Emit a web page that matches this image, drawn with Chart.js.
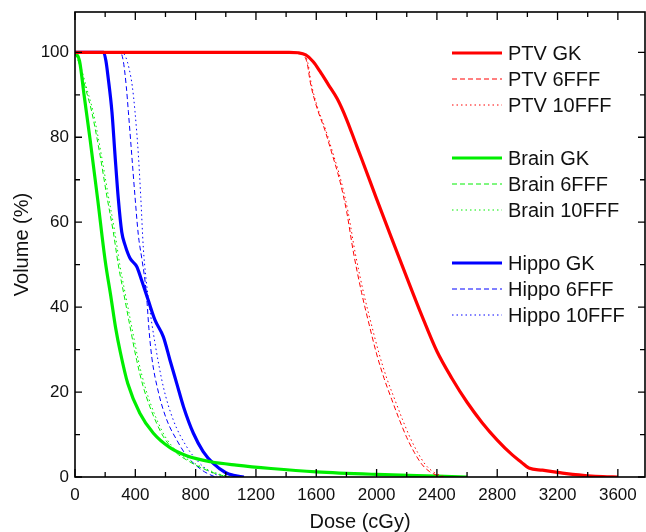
<!DOCTYPE html>
<html>
<head>
<meta charset="utf-8">
<script src="https://cdn.jsdelivr.net/npm/chart.js@4.4.1/dist/chart.umd.min.js"></script>
<style>
  html, body { margin: 0; padding: 0; background: #fff; }
  #wrap { width: 646px; height: 532px; position: relative; }
</style>
</head>
<body>
<div id="wrap"><canvas id="dvh"></canvas></div>
<script>
// axis ticks
const xTicks = [0, 400, 800, 1200, 1600, 2000, 2400, 2800, 3200, 3600];
const yTicks = [0, 20, 40, 60, 80, 100];

// PTV
const ptvGkDose = [0, 1420, 1480, 1530, 1580, 1625, 1680, 1740, 1800, 1860, 1900, 2000, 2100, 2200, 2300, 2400, 2500, 2600, 2700, 2800, 2900, 2960, 3010, 3100, 3200, 3300, 3400, 3500, 3600];
const ptvGkVol = [100, 100, 99.9, 99.4, 97.8, 95.5, 92.4, 89, 84.3, 78.7, 75, 65.5, 56.2, 47, 38, 29.6, 23.2, 17.6, 12.8, 8.7, 5.2, 3.5, 2.1, 1.6, 1.1, 0.6, 0.3, 0.1, 0];
const ptv6Dose = [0, 1480, 1515, 1540, 1560, 1603, 1658, 1691, 1758, 1802, 1846, 1900, 1950, 2000, 2050, 2100, 2150, 2200, 2250, 2300, 2350, 2400, 2440];
const ptv6Vol = [100, 100, 99.4, 97.4, 93, 87.1, 81.6, 77.7, 69.5, 62.4, 53, 43.5, 36, 29, 23.2, 18.3, 13.6, 9.3, 5.8, 3, 1.3, 0.4, 0];
const ptv10Dose = [0, 1480, 1520, 1545, 1565, 1608, 1664, 1698, 1766, 1811, 1857, 1913, 1965, 2017, 2068, 2120, 2171, 2222, 2272, 2322, 2372, 2420, 2460];
const ptv10Vol = [100, 100, 99.4, 97.4, 93, 87.1, 81.6, 77.7, 69.5, 62.4, 53, 43.5, 36, 29, 23.2, 18.3, 13.6, 9.3, 5.8, 3, 1.3, 0.4, 0];

// Brain
const brainGkDose = [0, 30, 60, 100, 150, 200, 240, 270, 300, 350, 430, 520, 630, 740, 900, 1070, 1300, 1600, 2000, 2400, 2600];
const brainGkVol = [100, 98, 90, 79.5, 65.5, 51, 42, 35, 29.5, 22, 15, 10.3, 6.9, 5, 3.6, 2.8, 2.0, 1.2, 0.6, 0.2, 0];
const brain6Dose = [0, 30, 66, 111, 166, 210, 254, 287, 332, 365, 409, 453, 497, 542, 586, 675, 741, 800, 880, 950, 1020];
const brain6Vol = [100, 97, 92, 86, 75.8, 66.4, 57.7, 50, 41.6, 35.4, 27.5, 21.2, 16.5, 12.6, 9.5, 5.6, 4, 2.8, 1.5, 0.6, 0];
const brain10Dose = [0, 35, 74, 120, 175, 220, 264, 297, 342, 376, 420, 465, 509, 554, 598, 688, 755, 815, 895, 965, 1035];
const brain10Vol = [100, 97, 92, 86, 75.8, 66.4, 57.7, 50, 41.6, 35.4, 27.5, 21.2, 16.5, 12.6, 9.5, 5.6, 4, 2.8, 1.5, 0.6, 0];

// Hippocampus
const hippoGkDose = [0, 190, 205, 220, 245, 265, 287, 310, 332, 365, 410, 440, 486, 530, 586, 630, 675, 720, 785, 850, 917, 1000, 1050, 1120];
const hippoGkVol = [100, 100, 98, 94, 86, 76, 65.6, 57.7, 54.6, 51.5, 49.5, 46.5, 41.6, 37, 33, 27.5, 22, 16.5, 10.3, 6, 3.2, 1, 0.4, 0];
const hippo6Dose = [0, 300, 320, 340, 354, 376, 398, 420, 445, 465, 478, 490, 510, 553, 608, 675, 740, 800, 860, 930];
const hippo6Vol = [100, 100, 98, 92, 86, 76, 66, 57, 51, 46, 41, 35, 28, 20, 13.5, 8.7, 5, 2.8, 1.2, 0];
const hippo10Dose = [0, 310, 335, 360, 380, 398, 420, 436, 453, 470, 490, 531, 586, 652, 741, 820, 880, 940, 990];
const hippo10Vol = [100, 100, 99, 96, 92, 86, 76, 66, 54, 47, 41, 31.4, 21.2, 13.4, 7.1, 3.5, 1.6, 0.5, 0];

const RED = '#ff0000', GREEN = '#00ee00', BLUE = '#0000ff';
const FONT = 'Liberation Sans, Arial, Helvetica, sans-serif';

function pts(xs, ys) {
    return xs.map((x, i) => ({x: x, y: ys[i]}));
}

function series(label, xs, ys, color, kind) {
    return {
        label: label,
        data: pts(xs, ys),
        borderColor: color,
        backgroundColor: color,
        borderWidth: kind === 'solid' ? 3.2 : 1,
        borderDash: kind === 'dash' ? [5, 3] : (kind === 'dot' ? [1.5, 3] : []),
        pointRadius: 0,
        cubicInterpolationMode: 'monotone',
        fill: false
    };
}

const datasets = [
    series('PTV GK', ptvGkDose, ptvGkVol, RED, 'solid'),
    series('PTV 6FFF', ptv6Dose, ptv6Vol, RED, 'dash'),
    series('PTV 10FFF', ptv10Dose, ptv10Vol, RED, 'dot'),
    series('Brain GK', brainGkDose, brainGkVol, GREEN, 'solid'),
    series('Brain 6FFF', brain6Dose, brain6Vol, GREEN, 'dash'),
    series('Brain 10FFF', brain10Dose, brain10Vol, GREEN, 'dot'),
    series('Hippo GK', hippoGkDose, hippoGkVol, BLUE, 'solid'),
    series('Hippo 6FFF', hippo6Dose, hippo6Vol, BLUE, 'dash'),
    series('Hippo 10FFF', hippo10Dose, hippo10Vol, BLUE, 'dot')
];

// box around the plot with inward ticks on all four sides
const framePlugin = {
    id: 'frame',
    afterDatasetsDraw(chart) {
        const {ctx, chartArea: a, scales: {x, y}} = chart;
        ctx.save();
        ctx.strokeStyle = '#000';
        ctx.lineWidth = 1.6;
        ctx.strokeRect(a.left, a.top, a.right - a.left, a.bottom - a.top);
        ctx.lineWidth = 1.3;
        ctx.beginPath();
        for (let v = 0; v <= 3600; v += 200) {
            const px = x.getPixelForValue(v);
            const len = v % 400 === 0 ? 8 : 5;
            ctx.moveTo(px, a.bottom); ctx.lineTo(px, a.bottom - len);
            ctx.moveTo(px, a.top); ctx.lineTo(px, a.top + len);
        }
        for (let v = 0; v <= 100; v += 10) {
            const py = y.getPixelForValue(v);
            const len = v % 20 === 0 ? 7 : 5;
            ctx.moveTo(a.left, py); ctx.lineTo(a.left + len, py);
            ctx.moveTo(a.right, py); ctx.lineTo(a.right - len, py);
        }
        ctx.stroke();
        ctx.restore();
    }
};

// legend in three groups, drawn from the datasets' own styles
const legendPlugin = {
    id: 'groupLegend',
    afterDraw(chart) {
        const ctx = chart.ctx;
        ctx.save();
        ctx.font = '20px ' + FONT;
        ctx.textBaseline = 'middle';
        ctx.fillStyle = '#111';
        chart.data.datasets.forEach((ds, i) => {
            const g = Math.floor(i / 3), k = i % 3;
            const yy = 53 + g * 105 + k * 26;
            ctx.beginPath();
            ctx.strokeStyle = ds.borderColor;
            ctx.lineWidth = ds.borderWidth;
            ctx.setLineDash(ds.borderDash);
            ctx.moveTo(452, yy);
            ctx.lineTo(502, yy);
            ctx.stroke();
            ctx.setLineDash([]);
            ctx.fillText(ds.label, 508, yy + 1);
        });
        ctx.restore();
    }
};

new Chart(document.getElementById('dvh').getContext('2d'), {
    type: 'line',
    data: { datasets: datasets },
    options: {
        responsive: true,
        maintainAspectRatio: false,
        animation: false,
        layout: { padding: { top: 12, right: 1, left: 0, bottom: 0 } },
        plugins: { legend: { display: false }, tooltip: { enabled: false } },
        scales: {
            x: {
                type: 'linear',
                min: 0,
                max: 3780,
                afterBuildTicks: s => { s.ticks = xTicks.map(v => ({value: v})); },
                afterFit: s => { s.height = 55; s.paddingLeft = 0; s.paddingRight = 0; },
                grid: { display: false, drawTicks: false },
                border: { display: false },
                ticks: { color: '#111', padding: 8, maxRotation: 0, autoSkip: false,
                         callback: v => String(v),
                         font: { family: FONT, size: 17 } },
                title: { display: true, text: 'Dose (cGy)', color: '#111',
                         padding: { top: 0, bottom: 0 },
                         font: { family: FONT, size: 20, lineHeight: 1 } }
            },
            y: {
                min: 0,
                max: 109.5,
                afterBuildTicks: s => { s.ticks = yTicks.map(v => ({value: v})); },
                afterFit: s => { s.width = 75; s.paddingTop = 0; s.paddingBottom = 0; },
                grid: { display: false, drawTicks: false },
                border: { display: false },
                ticks: { color: '#111', padding: 6, autoSkip: false,
                         callback: v => String(v),
                         font: { family: FONT, size: 17 } },
                title: { display: true, text: 'Volume (%)', color: '#111',
                         padding: { top: 12, bottom: 0 },
                         font: { family: FONT, size: 20, lineHeight: 1 } }
            }
        }
    },
    plugins: [framePlugin, legendPlugin]
});
</script>
</body>
</html>
